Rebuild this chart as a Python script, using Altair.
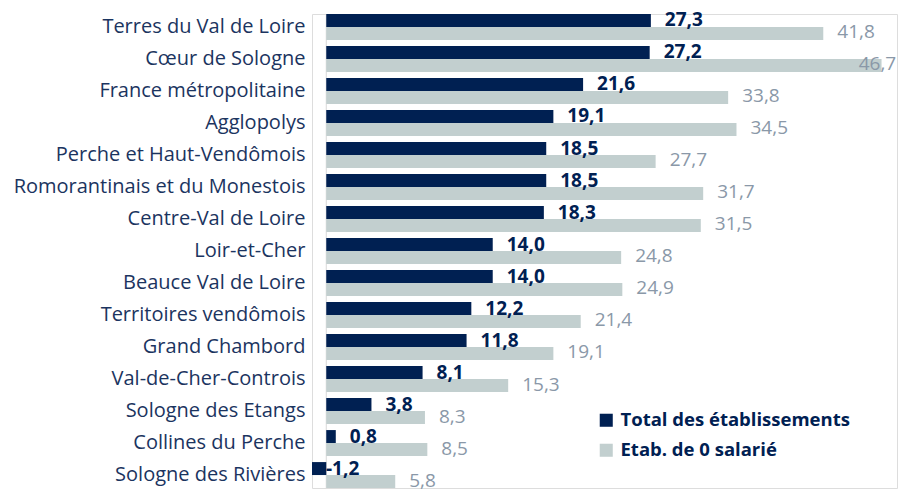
import altair as alt
import pandas as pd

categories = ["Terres du Val de Loire", "Cœur de Sologne", "France métropolitaine", "Agglopolys",
              "Perche et Haut-Vendômois", "Romorantinais et du Monestois", "Centre-Val de Loire",
              "Loir-et-Cher", "Beauce Val de Loire", "Territoires vendômois", "Grand Chambord",
              "Val-de-Cher-Controis", "Sologne des Etangs", "Collines du Perche", "Sologne des Rivières"]
total = [27.3, 27.2, 21.6, 19.1, 18.5, 18.5, 18.3, 14.0, 14.0, 12.2, 11.8, 8.1, 3.8, 0.8, -1.2]
zero_sal = [41.8, 46.7, 33.8, 34.5, 27.7, 31.7, 31.5, 24.8, 24.9, 21.4, 19.1, 15.3, 8.3, 8.5, 5.8]
series = ["Total des établissements", "Etab. de 0 salarié"]

rows = []
for c, a, b in zip(categories, total, zero_sal):
    rows.append({"cat": c, "serie": series[0], "v": a, "lab": f"{a:.1f}".replace(".", ",")})
    rows.append({"cat": c, "serie": series[1], "v": b, "lab": f"{b:.1f}".replace(".", ",")})
df = pd.DataFrame(rows)

NAVY = "#002052"
GREY = "#C2CFCF"
FONT = "Open Sans"
XDOM = [-1.2, 48]

y_enc = alt.Y("cat:N", sort=categories, title=None,
              scale=alt.Scale(paddingInner=0.19, paddingOuter=0.0),
              axis=alt.Axis(domain=False, ticks=False, labelFontSize=20, labelFont=FONT,
                            labelColor="#1B3460", labelPadding=7, labelLimit=400))
yoff = alt.YOffset("serie:N", sort=series, scale=alt.Scale(paddingInner=0, paddingOuter=0))
x_enc = alt.X("v:Q", title=None, scale=alt.Scale(domain=XDOM, nice=False, zero=False), axis=None)
xl_enc = alt.X("labx:Q", title=None, scale=alt.Scale(domain=XDOM, nice=False, zero=False), axis=None)

base = alt.Chart(df).transform_calculate(labx="min(datum.v, 43.6)")

bars = base.mark_bar().encode(
    y=y_enc, yOffset=yoff, x=x_enc, x2=alt.datum(0),
    color=alt.Color("serie:N", sort=series,
                    scale=alt.Scale(domain=series, range=[NAVY, GREY]),
                    legend=alt.Legend(title=None, orient="none", legendX=285, legendY=397,
                                      symbolType="square", symbolSize=170, symbolStrokeWidth=0,
                                      labelFontSize=18.5, labelFont=FONT, labelFontWeight="bold",
                                      labelColor=NAVY, rowPadding=11, padding=0, labelOffset=5,
                                      labelLimit=400, symbolOpacity=1)),
)

rule = alt.Chart(pd.DataFrame({"z": [0]})).mark_rule(color="#D9D9D9", strokeWidth=1).encode(
    x=alt.X("z:Q", scale=alt.Scale(domain=XDOM, nice=False, zero=False), axis=None)
)

lab_total = base.transform_filter(alt.datum.serie == series[0]).mark_text(
    align="left", baseline="middle", dx=14, fontSize=19, font=FONT, fontWeight="bold", color=NAVY
).encode(y=alt.Y("cat:N", sort=categories), yOffset=yoff, x=xl_enc, text="lab:N")

lab_zero = base.transform_filter(alt.datum.serie == series[1]).mark_text(
    align="left", baseline="middle", dx=14, dy=-1, fontSize=19, font=FONT, color="#8A98A8"
).encode(y=alt.Y("cat:N", sort=categories), yOffset=yoff, x=xl_enc, text="lab:N")

chart = alt.layer(rule, bars, lab_total, lab_zero).properties(
    width=585, height=474,
    autosize=alt.AutoSizeParams(type="none"),
    padding={"left": 304, "top": 6, "right": 1, "bottom": 1},
).configure_view(stroke=None).configure(background="white")

chart.save("out.html", embed_options={"renderer": "svg", "actions": False})
